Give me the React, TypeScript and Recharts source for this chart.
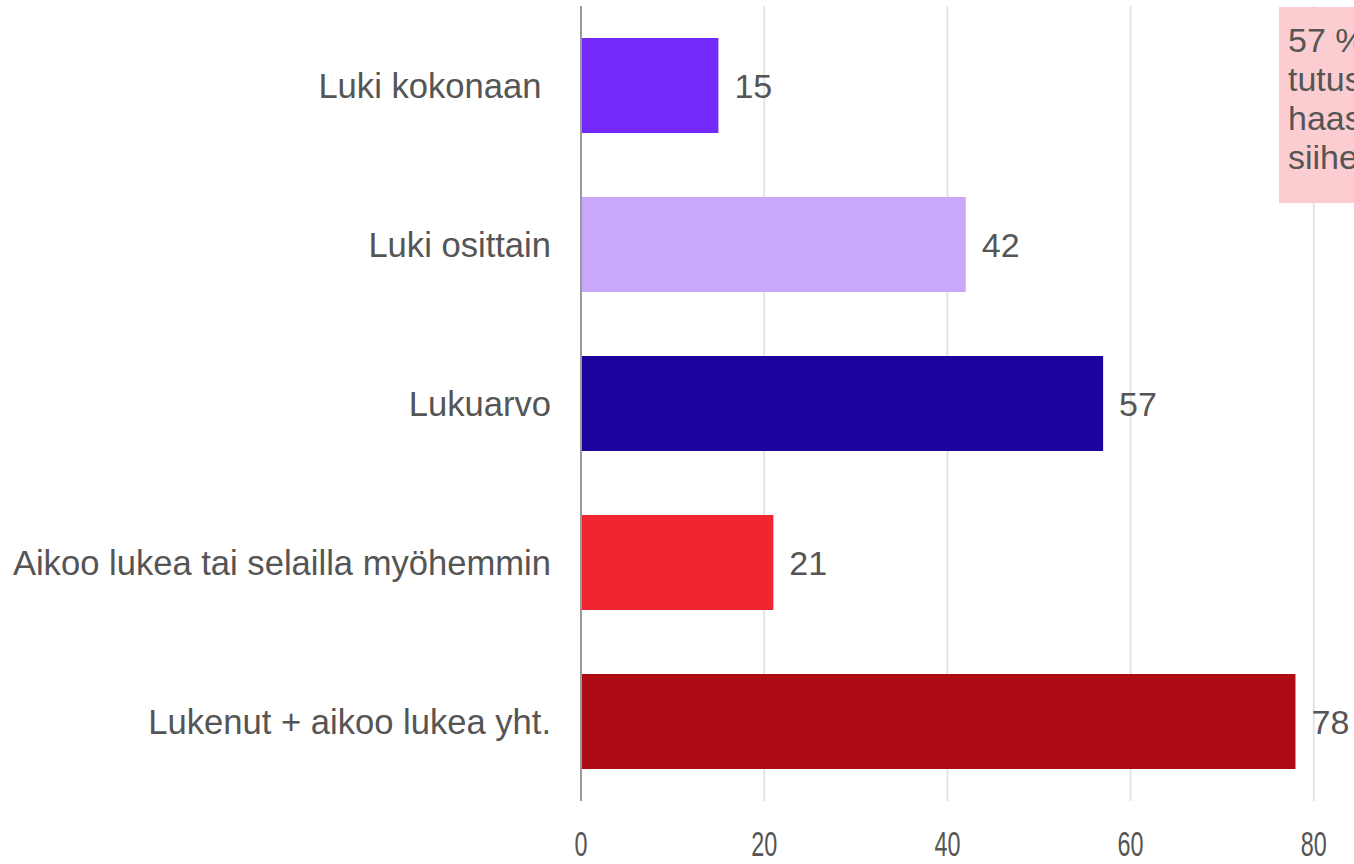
import { BarChart, Bar, XAxis, YAxis, CartesianGrid, Cell, LabelList } from 'recharts'

const categories = [
  'Luki kokonaan ',
  'Luki osittain',
  'Lukuarvo',
  'Aikoo lukea tai selailla myöhemmin',
  'Lukenut + aikoo lukea yht.',
]
const values = [15, 42, 57, 21, 78]
const barColors = ['#7329fa', '#c8a8fa', '#1b039e', '#f0252f', '#ad0c14']
const xTicks = [0, 20, 40, 60, 80, 100]
const noteLines = [
  '57 % vastaajista',
  'tutustui julkaisuun',
  'haastattelun aikana tai',
  'siihen mennessä',
]

const TEXT = '#555555'
const FONT = '"Liberation Sans", Arial, sans-serif'

const data = categories.map((name, i) => ({ name, value: values[i] }))

function CategoryTick({ x, y, payload }: any) {
  return (
    <text
      x={x - 22}
      y={y}
      dy={12}
      textAnchor="end"
      fill={TEXT}
      fontSize={34.6}
      fontFamily={FONT}
      style={{ whiteSpace: 'pre' }}
    >
      {payload.value}
    </text>
  )
}

function ValueTick({ x, y, payload }: any) {
  return (
    <g transform={`translate(${x},${y + 47}) scale(0.65,1)`}>
      <text x={0} y={0} textAnchor="middle" fill={TEXT} fontSize={36} fontFamily={FONT}>
        {payload.value}
      </text>
    </g>
  )
}

export default function App() {
  return (
    <div
      style={{
        position: 'fixed',
        left: 0,
        top: 0,
        width: 1354,
        height: 864,
        overflow: 'hidden',
        background: '#ffffff',
      }}
    >
      <BarChart
        width={1497}
        height={864}
        data={data}
        layout="vertical"
        margin={{ top: 6, right: 0, bottom: 0, left: 0 }}
        barCategoryGap={32}
      >
        <CartesianGrid horizontal={false} stroke="#e4e4e4" strokeWidth={2} />
        <XAxis
          type="number"
          domain={[0, 100]}
          ticks={xTicks}
          axisLine={false}
          tickLine={false}
          height={63}
          tick={<ValueTick />}
          interval={0}
        />
        <YAxis
          type="category"
          dataKey="name"
          width={581}
          axisLine={{ stroke: '#999999', strokeWidth: 2 }}
          tickLine={false}
          tick={<CategoryTick />}
          interval={0}
        />
        <Bar dataKey="value" isAnimationActive={false}>
          {data.map((_, i) => (
            <Cell key={i} fill={barColors[i]} />
          ))}
          <LabelList
            dataKey="value"
            position="right"
            offset={16}
            fill={TEXT}
            fontSize={34}
            fontFamily={FONT}
          />
        </Bar>
      </BarChart>
      <div
        style={{
          position: 'absolute',
          left: 1279,
          top: 7,
          width: 360,
          height: 196,
          background: '#fbcdd0',
          color: TEXT,
          fontFamily: FONT,
          fontSize: 34,
          lineHeight: '39px',
          padding: '14px 9px',
          boxSizing: 'border-box',
          whiteSpace: 'nowrap',
        }}
      >
        {noteLines.map((l) => (
          <div key={l}>{l}</div>
        ))}
      </div>
    </div>
  )
}
